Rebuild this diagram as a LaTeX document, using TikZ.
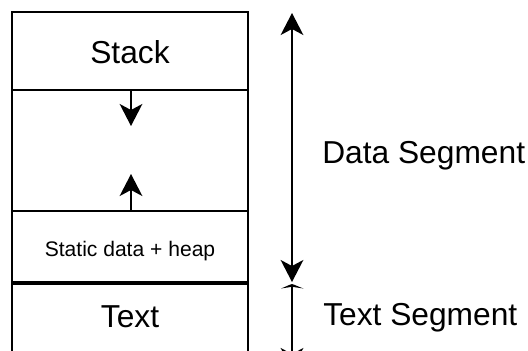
\documentclass[tikz,border=0pt]{standalone}
\usepackage{fontspec}
\setmainfont{Liberation Sans}
\usetikzlibrary{arrows.meta}
\tikzset{
  line/.style={line width=1.5pt},
  thickline/.style={line width=3pt},
  tip/.tip={Stealth[length=16.5pt,width=17pt,inset=4.5pt]},
  big/.style={font=\fontsize{23.8}{26}\selectfont, inner sep=0pt},
  small/.style={font=\fontsize{15.8}{18}\selectfont, inner sep=0pt},
}
\begin{document}
\begin{tikzpicture}[x=0.75pt,y=-0.75pt]
\useasboundingbox (0,0) rectangle (528,350);
\clip (0,0) rectangle (528,350);
% memory box
\coordinate (bl) at (12,360);
\coordinate (tl) at (12,12);
\coordinate (tr) at (248,12);
\coordinate (br) at (248,360);
\draw[line] (bl) -- (tl) -- (tr) -- (br);
\coordinate (l1) at (12,90);  \coordinate (r1) at (248,90);
\coordinate (l2) at (12,211); \coordinate (r2) at (248,211);
\coordinate (l3) at (12,283); \coordinate (r3) at (248,283);
\draw[line] (l1) -- (r1);
\draw[line] (l2) -- (r2);
\draw[thickline] (l3) -- (r3);
% growth arrows
\coordinate (sa0) at (131,90);  \coordinate (sa1) at (131,126);
\coordinate (ha0) at (131,211); \coordinate (ha1) at (131,174);
\draw[line,-tip] (sa0) -- (sa1);
\draw[line,-tip] (ha0) -- (ha1);
% segment arrows
\coordinate (d0) at (292,13); \coordinate (d1) at (292,282);
\draw[line,tip-tip] (d0) -- (d1);
% text segment arrow (partly cut)
\coordinate (t0) at (292,285); \coordinate (t1) at (292,360);
\draw[line] (t0) -- (t1);
\fill (281,288.5) .. controls (286,286.5) and (290,284.5) .. (292,284)
      .. controls (294,284.5) and (298,286.5) .. (303.5,288.5)
      .. controls (298,287.5) .. (292,286.8)
      .. controls (286,287.5) .. (281,288.5) -- cycle;
\begin{scope}
\clip (270,300) rectangle (320,350);
\coordinate (t2) at (292,330); \coordinate (t3) at (292,370);
\draw[line,-tip] (t2) -- (t3);
\end{scope}
% labels
\node[big, anchor=base] (stack) at (130,63) {Stack};
\node[small, anchor=base] (heap) at (130,256) {Static data + heap};
\node[big, anchor=base] (text) at (130,327) {Text};
\node[big, anchor=base west] (ds) at (322,163) {Data Segment};
\node[big, anchor=base west] (ts) at (323,325) {Text Segment};
\end{tikzpicture}
\end{document}
